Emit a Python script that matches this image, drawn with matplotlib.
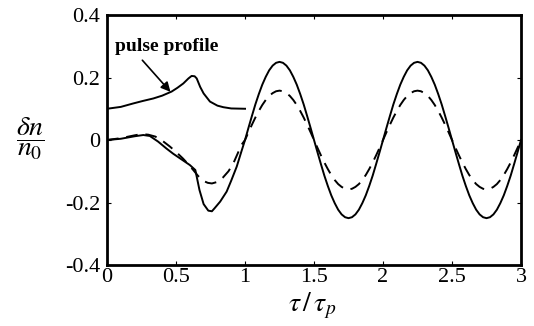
import matplotlib
matplotlib.use("Agg")
import matplotlib.pyplot as plt

# ---- data ----
x_early_solid = [0.0, 0.1, 0.2, 0.263, 0.31, 0.37, 0.43, 0.48, 0.53, 0.57, 0.60, 0.64, 0.67, 0.70,
                 0.734, 0.76, 0.78, 0.82, 0.867, 0.90, 0.94, 0.975]
y_early_solid = [0.0, 0.004, 0.012, 0.016, 0.013, -0.005, -0.027, -0.044, -0.059, -0.071, -0.08, -0.096, -0.16, -0.205,
                 -0.226, -0.228, -0.218, -0.197, -0.165, -0.13, -0.085, -0.035]
x_early_dash = [0.0, 0.1, 0.2, 0.25, 0.30, 0.35, 0.40, 0.456, 0.50, 0.55, 0.59, 0.625, 0.66, 0.70,
                0.73, 0.76, 0.80, 0.84, 0.88, 0.915, 0.95, 0.975]
y_early_dash = [0.0, 0.006, 0.015, 0.019, 0.017, 0.011, -0.002, -0.021, -0.038, -0.059, -0.078, -0.096, -0.115, -0.131,
                -0.137, -0.139, -0.134, -0.12, -0.1, -0.075, -0.04, -0.015]

# periodic part, x = 1.0 .. 3.0 step 0.025
x_osc = [1.0 + 0.025 * i for i in range(81)]
y_solid_osc = [0, .039, .077, .114, .147, .177, .202, .223, .238, .247, .25, .247, .238, .223, .202, .177, .147, .114, .077, .039,
               0, -.039, -.077, -.114, -.147, -.177, -.202, -.223, -.238, -.247, -.25, -.247, -.238, -.223, -.202, -.177, -.147, -.114, -.077, -.039,
               0, .039, .077, .114, .147, .177, .202, .223, .238, .247, .25, .247, .238, .223, .202, .177, .147, .114, .077, .039,
               0, -.039, -.077, -.114, -.147, -.177, -.202, -.223, -.238, -.247, -.25, -.247, -.238, -.223, -.202, -.177, -.147, -.114, -.077, -.039,
               0]
y_dash_osc = [0, .025, .049, .072, .093, .112, .128, .141, .150, .156, .158, .156, .150, .141, .128, .112, .093, .072, .049, .025,
              0, -.025, -.049, -.072, -.093, -.112, -.128, -.141, -.150, -.156, -.158, -.156, -.150, -.141, -.128, -.112, -.093, -.072, -.049, -.025,
              0, .025, .049, .072, .093, .112, .128, .141, .150, .156, .158, .156, .150, .141, .128, .112, .093, .072, .049, .025,
              0, -.025, -.049, -.072, -.093, -.112, -.128, -.141, -.150, -.156, -.158, -.156, -.150, -.141, -.128, -.112, -.093, -.072, -.049, -.025,
              0]

x_pulse = [0.0, 0.1, 0.19, 0.26, 0.336, 0.40, 0.468, 0.51, 0.553, 0.59, 0.613, 0.635, 0.65, 0.675, 0.70, 0.746,
           0.80, 0.843, 0.9, 1.0]
y_pulse = [0.1, 0.106, 0.117, 0.125, 0.133, 0.142, 0.155, 0.167, 0.181, 0.197, 0.205, 0.204, 0.197, 0.17, 0.149, 0.123,
           0.11, 0.105, 0.101, 0.1]

x_ticks = [0, 0.5, 1, 1.5, 2, 2.5, 3]
x_ticklabels = ["0", "0.5", "1", "1.5", "2", "2.5", "3"]
y_ticks = [-0.4, -0.2, 0, 0.2, 0.4]
y_ticklabels = ["-0.4", "-0.2", "0", "0.2", "0.4"]

plt.rcParams['font.family'] = ['Liberation Serif', 'DejaVu Serif']
plt.rcParams['mathtext.fontset'] = 'stix'

fig = plt.figure(figsize=(5.34, 3.26), dpi=100)
ax = fig.add_axes([0.2004, 0.187, 0.7753, 0.767])

ax.plot(x_early_solid + x_osc, y_early_solid + y_solid_osc, color='black', lw=1.4)
ax.plot(x_early_dash + x_osc, y_early_dash + y_dash_osc, color='black', lw=1.4, dashes=(6, 4))
ax.plot(x_pulse, y_pulse, color='black', lw=1.4)

ax.set_xlim(0, 3)
ax.set_ylim(-0.4, 0.4)
ax.set_xticks(x_ticks)
ax.set_xticklabels(x_ticklabels)
ax.set_yticks(y_ticks)
ax.set_yticklabels(y_ticklabels)
ax.tick_params(direction='in', length=3, width=0.8, labelsize=16, top=True, right=True)
ax.tick_params(axis='x', pad=2)
ax.tick_params(axis='y', pad=5)
for s in ax.spines.values():
    s.set_linewidth(2.0)

ax.annotate('pulse profile', xy=(0.46, 0.154), xytext=(0.06, 0.298),
            fontsize=14, fontweight='semibold', ha='left', va='center',
            arrowprops=dict(arrowstyle='-|>', color='black', lw=1.2, mutation_scale=14,
                            shrinkA=2, shrinkB=0, relpos=(0.22, 0.0)))

fig.text(0.056, 0.574, r'$\dfrac{\delta n}{n_0}$', fontsize=20, ha='center', va='center')
fig.text(0.585, 0.062, r'$\tau\,/\,\tau_p$', fontsize=20, ha='center', va='center')

fig.savefig('out.png', dpi=100)
